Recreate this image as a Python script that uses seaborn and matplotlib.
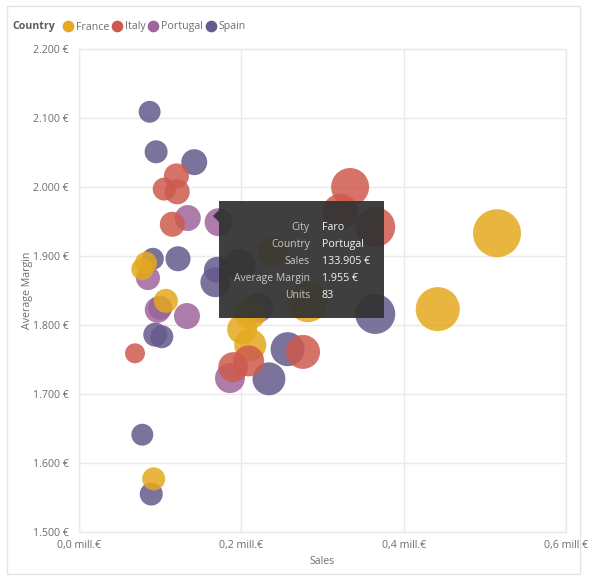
"""
Bubble chart of sales against average margin per city, by country.
"""
import matplotlib
matplotlib.use('Agg')
import matplotlib.pyplot as plt
from matplotlib.lines import Line2D
from matplotlib.patches import Rectangle, Polygon
import pandas as pd
import seaborn as sns

countries = ["France", "Italy", "Portugal", "Spain"]
colors = ["#E4A91E", "#CE5A4E", "#A0659B", "#655A8C"]

france_sales = [.515, .442, .092, .107, .0825, .078, .201, .211, .282, .211, .239]
france_margin = [1933, 1823, 1577, 1835, 1890, 1881, 1794, 1771, 1833, 1817, 1906]
france_units = [283, 238, 65, 71, 60, 60, 110, 126, 196, 126, 110]

italy_sales = [.334, .322, .365, .276, .209, .190, .069, .115, .121, .105, .120]
italy_margin = [2000, 1964, 1942, 1761, 1748, 1739, 1759, 1946, 1993, 1997, 2016]
italy_units = [177, 159, 196, 142, 118, 110, 49, 77, 77, 65, 77]

portugal_sales = [.134, .172, .085, .097, .133, .186, .2205]
portugal_margin = [1955, 1949, 1868, 1822, 1813, 1723, 1825]
portugal_units = [83, 96, 71, 83, 83, 110, 110]

spain_sales = [.087, .095, .142, .091, .122, .170, .168, .198, .365, .257, .234, .100, .094, .102, .078, .089]
spain_margin = [2109, 2051, 2036, 1896, 1896, 1880, 1862, 1887, 1816, 1765, 1722, 1825, 1786, 1783, 1641, 1555]
spain_units = [59, 65, 83, 59, 77, 83, 110, 126, 196, 142, 133, 71, 71, 65, 59, 65]

x_ticks = [0.0, 0.2, 0.4, 0.6]
x_labels = ["0,0 mill.€", "0,2 mill.€", "0,4 mill.€", "0,6 mill.€"]
y_ticks = [1500, 1600, 1700, 1800, 1900, 2000, 2100, 2200]
y_labels = ["1.500 €", "1.600 €", "1.700 €", "1.800 €", "1.900 €", "2.000 €", "2.100 €", "2.200 €"]

tooltip_keys = ["City", "Country", "Sales", "Average Margin", "Units"]
tooltip_values = ["Faro", "Portugal", "133.905 €", "1.955 €", "83"]

W, H = 603, 584
TEXT = "#6E6E6E"
GRID = "#EAEAEA"


def fx(px):
    return px / W


def fy(py):
    return 1 - py / H


def build_frame():
    rows = []
    # row order is the drawing order: Italy ends up on top
    for name, s, m, u in [("Spain", spain_sales, spain_margin, spain_units),
                          ("Portugal", portugal_sales, portugal_margin, portugal_units),
                          ("France", france_sales, france_margin, france_units),
                          ("Italy", italy_sales, italy_margin, italy_units)]:
        rows.append(pd.DataFrame({"Country": name, "Sales": s, "Margin": m, "Units": u}))
    return pd.concat(rows, ignore_index=True)


def add_tooltip(fig):
    fig.add_artist(Rectangle((fx(219), fy(318)), 165 / W, 117 / H, transform=fig.transFigure,
                             facecolor="#333333", alpha=0.94, edgecolor="none", zorder=5))
    fig.add_artist(Polygon([(fx(213), fy(216)), (fx(219), fy(210)), (fx(219), fy(222))],
                           transform=fig.transFigure, facecolor="#333333", alpha=0.94,
                           edgecolor="none", zorder=5))
    for j, (k, v) in enumerate(zip(tooltip_keys, tooltip_values)):
        y = fy(227.5 + j * 17)
        fig.text(fx(310), y, k, color="#C8C8C8", fontsize=7.5, ha="right", va="center", zorder=6)
        fig.text(fx(322), y, v, color="#F5F5F5", fontsize=7.7, ha="left", va="center", zorder=6)


def plot():
    sns.set_theme(style="white")
    plt.rcParams['font.family'] = ['Open Sans', 'DejaVu Sans']
    fig = plt.figure(figsize=(W / 100, H / 100), dpi=100, facecolor="white")
    ax = fig.add_axes([fx(79), fy(532), (566 - 79) / W, (532 - 49) / H])

    df = build_frame()
    # area scale fixed so that 83 units is a 26 px bubble
    k = (0.72 * 26) ** 2 / 83
    low, high = df["Units"].min(), df["Units"].max()
    sns.scatterplot(data=df, x="Sales", y="Margin", hue="Country", hue_order=countries,
                    palette=colors, size="Units", sizes=(low * k, high * k),
                    size_norm=(low, high), alpha=0.85, linewidth=0, legend=False,
                    clip_on=False, ax=ax, zorder=3)

    ax.set_xlim(0, 0.6)
    ax.set_ylim(1500, 2200)
    ax.set_xticks(x_ticks, x_labels)
    ax.set_yticks(y_ticks, y_labels)
    ax.tick_params(length=0, labelsize=7.7, labelcolor=TEXT)
    ax.tick_params(axis="x", pad=6)
    ax.tick_params(axis="y", pad=7.6)
    ax.grid(True, color=GRID, lw=1)
    ax.set_axisbelow(True)
    for spine in ax.spines.values():
        spine.set_color(GRID)
        spine.set_linewidth(1)
    ax.set_xlabel("Sales", fontsize=7.7, color=TEXT, labelpad=3.3)
    ax.set_ylabel("Average Margin", fontsize=7.7, color=TEXT, labelpad=-0.1)

    handles = [Line2D([], [], marker="o", ls="none", color=c, markersize=7.4, label=n)
               for n, c in zip(countries, colors)]
    ax.legend(handles=handles, ncols=4, frameon=False, fontsize=7.7, labelcolor=TEXT,
              loc="center left", bbox_to_anchor=(fx(60), fy(27)), bbox_transform=fig.transFigure,
              borderpad=0, borderaxespad=0, handletextpad=-0.01, columnspacing=-0.03, handlelength=1.5)
    fig.text(fx(12), fy(26.5), "Country", fontsize=7.6, fontweight="bold", color="#5A5A5A",
             ha="left", va="center")

    fig.add_artist(Rectangle((fx(7), fy(574)), 573 / W, 568 / H, transform=fig.transFigure,
                             facecolor="none", edgecolor="#E4E4E4", lw=1, zorder=1))
    add_tooltip(fig)
    fig.savefig("out.png", dpi=100)


if __name__ == "__main__":
    plot()
